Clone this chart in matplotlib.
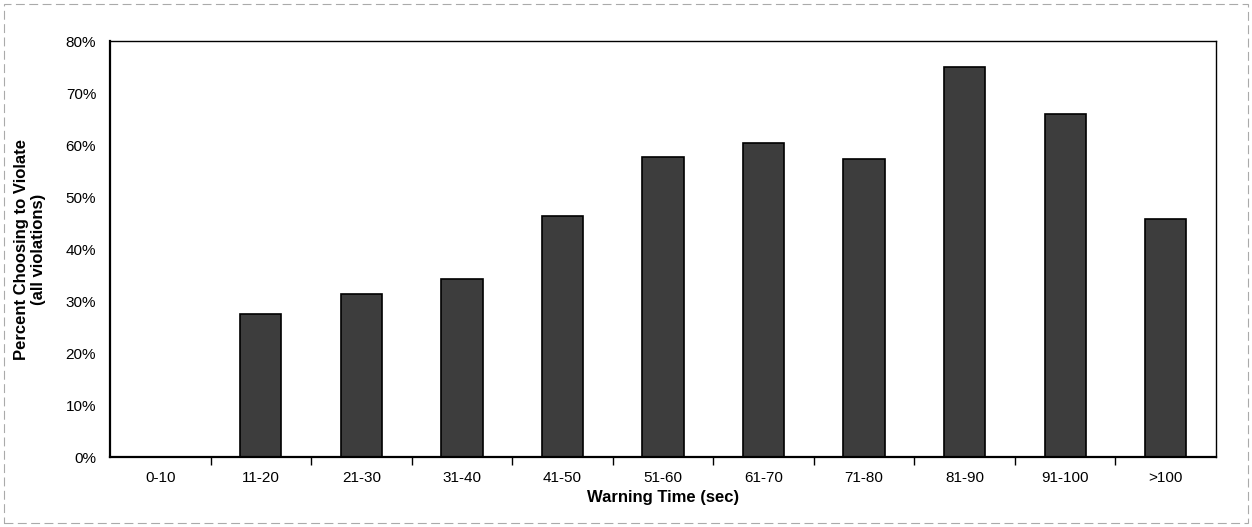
import numpy as np
import matplotlib.pyplot as plt
from matplotlib.patches import Rectangle
from matplotlib.ticker import FixedLocator, PercentFormatter

plt.rcParams['font.family'] = ['Liberation Sans', 'DejaVu Sans']

categories = ["0-10", "11-20", "21-30", "31-40", "41-50", "51-60",
              "61-70", "71-80", "81-90", "91-100", ">100"]
percent = [0, 27.5, 31.3, 34.2, 46.3, 57.6, 60.3, 57.4, 75.0, 66.0, 45.7]

fig = plt.figure(figsize=(12.52, 5.27), dpi=100)
ax = fig.add_axes([0.0879, 0.1328, 0.8833, 0.7894])

x = np.arange(len(categories))
ax.bar(x, percent, width=0.41, color='#3d3d3d', edgecolor='black', linewidth=1.2)

ax.set_xlim(-0.5, len(categories) - 0.5)
ax.set_ylim(0, 80)
ax.set_yticks(np.arange(0, 81, 10))
ax.yaxis.set_major_formatter(PercentFormatter(decimals=0))
ax.tick_params(axis='y', length=0, labelsize=11, pad=10)

ax.set_xticks(x)
ax.set_xticklabels(categories)
ax.tick_params(axis='x', which='major', length=0, labelsize=11, pad=10)
ax.xaxis.set_minor_locator(FixedLocator(np.arange(0.5, len(categories) - 1, 1)))
ax.tick_params(axis='x', which='minor', length=6, direction='out', width=1)

for side in ['left', 'bottom']:
    ax.spines[side].set_linewidth(1.6)
for side in ['top', 'right']:
    ax.spines[side].set_linewidth(1.0)

ax.set_xlabel("Warning Time (sec)", fontsize=12, fontweight='bold', labelpad=4)
ax.set_ylabel("Percent Choosing to Violate\n(all violations)", fontsize=12,
              fontweight='bold', labelpad=14)

# faint frame around the whole chart
fig.patches.append(Rectangle((0.003, 0.008), 0.994, 0.985, transform=fig.transFigure,
                             fill=False, edgecolor='#aaaaaa', linewidth=0.8,
                             linestyle=(0, (8, 4))))

fig.savefig("out.png", dpi=100)
